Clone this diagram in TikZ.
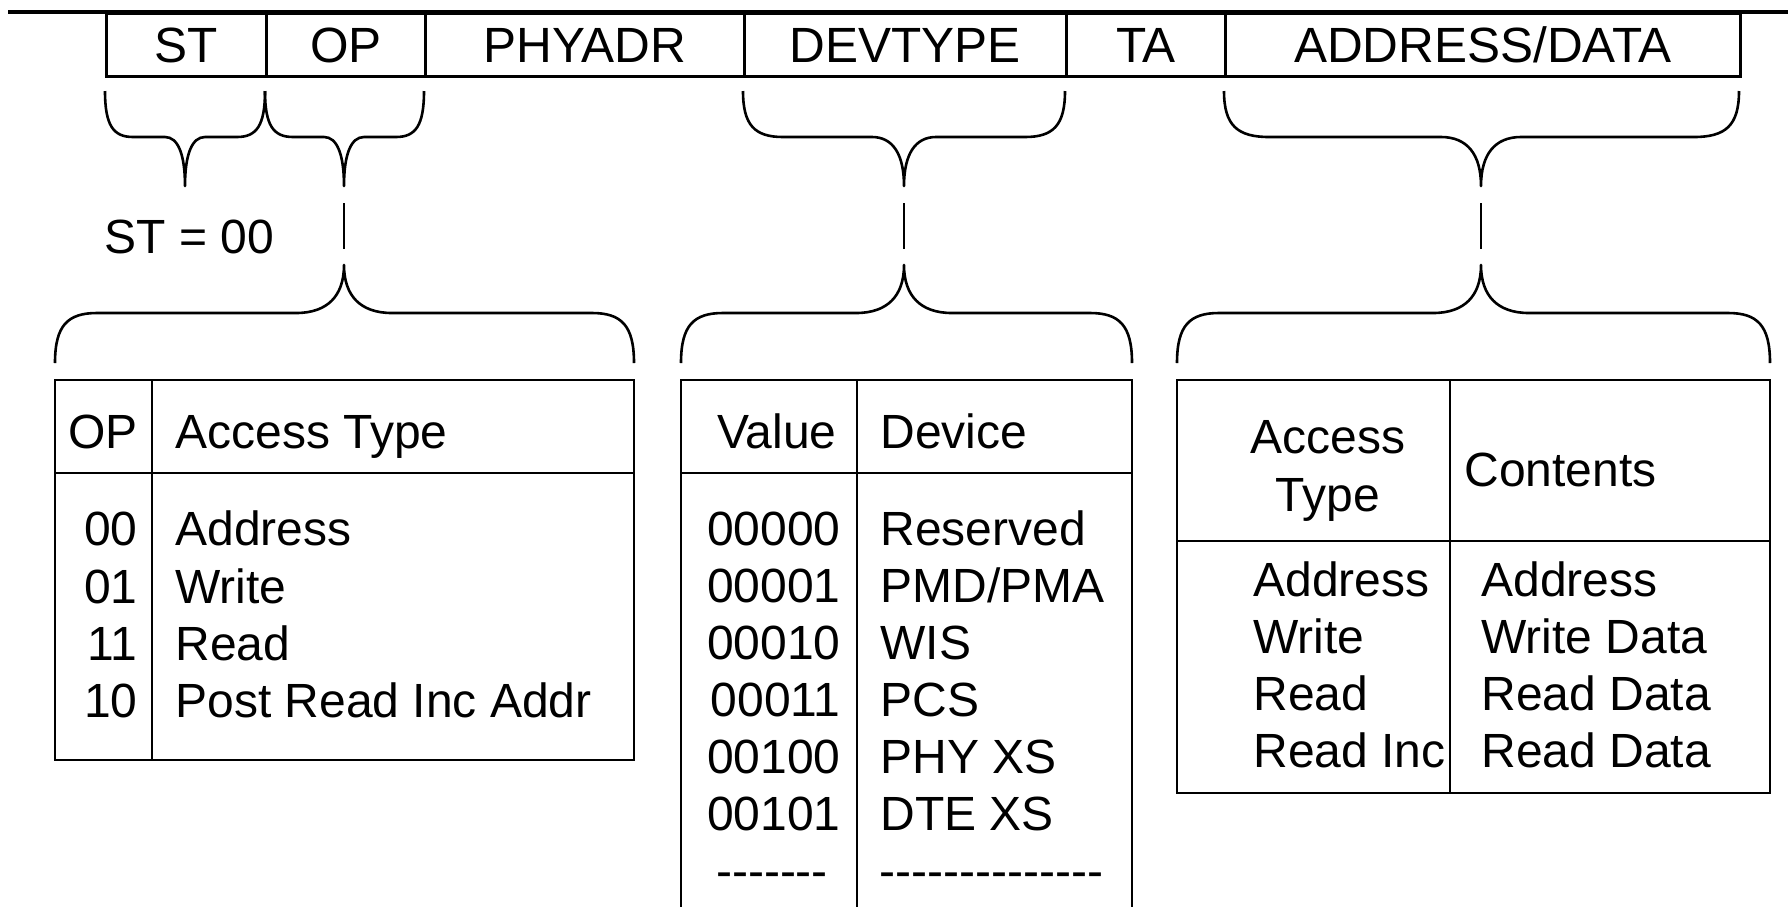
\documentclass[tikz,border=0pt]{standalone}
\usepackage{fontspec}
\setmainfont{Liberation Sans}[Ligatures=TeXOff]
\newcommand{\mybrace}[8]{%
  \draw[brace] (#1,#4) .. controls (#1,{#4+0.75*(#5-#4)}) and ({#1+0.3*#7},#5) .. ({#1+#7},#5)
    -- ({#2-#8},#5) .. controls ({#2-0.35*#8},#5) and (#2,{#5+0.35*(#6-#5)}) .. (#2,#6)
    .. controls (#2,{#5+0.35*(#6-#5)}) and ({#2+0.35*#8},#5) .. ({#2+#8},#5)
    -- ({#3-#7},#5) .. controls ({#3-0.3*#7},#5) and (#3,{#4+0.75*(#5-#4)}) .. (#3,#4);}
\begin{document}
\begin{tikzpicture}[x=1pt,y=-1pt, line width=2.8pt,
  every node/.style={font=\fontsize{48}{57}\selectfont, inner sep=0pt},
  hdr/.style={draw, minimum height=63pt, text height=35pt, text depth=0pt, anchor=north west,
    font=\fontsize{49.5}{57}\selectfont},
  txt/.style={anchor=base west},
  rtxt/.style={anchor=base east},
  ctxt/.style={anchor=base},
  brace/.style={line width=2.6pt, line join=round},
  link/.style={line width=2.8pt, shorten <=17pt, shorten >=16pt}]
\useasboundingbox (0,0) rectangle (1788,906);

% header
\node[hdr, minimum width=160pt] (st) at (105,12) {ST};
\node[hdr, minimum width=159pt] (op) at (265,12) {OP};
\node[hdr, minimum width=319pt] (phy) at (424,12) {PHYADR};
\node[hdr, minimum width=322pt] (dev) at (743,12) {DEVTYPE};
\node[hdr, minimum width=159pt] (ta) at (1065,12) {TA};
\node[hdr, minimum width=515pt] (ad) at (1224,12) {ADDRESS/DATA};
\draw[line width=4pt] (8,12) -- (1788,12);

% upper braces
\mybrace{105}{185}{265}{91}{137}{186}{28}{20}
\mybrace{265}{344}{424}{91}{137}{186}{28}{20}
\mybrace{743}{904}{1065}{91}{137}{186}{40}{32}
\mybrace{1224}{1481}{1739}{91}{137}{186}{45}{40}
% lower braces
\mybrace{55}{344}{634}{363}{313}{265}{42}{48}
\mybrace{681}{904}{1132}{363}{313}{265}{42}{48}
\mybrace{1177}{1481}{1770}{363}{313}{265}{42}{48}

\coordinate (t1) at (344,186); \coordinate (b1) at (344,265);
\coordinate (t2) at (904,186); \coordinate (b2) at (904,265);
\coordinate (t3) at (1481,186); \coordinate (b3) at (1481,265);
\draw[link] (t1) -- (b1);
\draw[link] (t2) -- (b2);
\draw[link] (t3) -- (b3);

\node[txt] (steq) at (103,253) {ST = 00};

% OP table
\draw (55,380) rectangle (634,760);
\draw (55,473) -- (634,473);
\draw (152,380) -- (152,760);
\node[rtxt] (oph) at (139,448) {OP};
\node[txt] (ath) at (174,448) {Access Type};
\node[rtxt] (o1) at (139,545) {00}; \node[txt] (a1) at (174,545) {Address};
\node[rtxt] (o2) at (139,603) {01}; \node[txt] (a2) at (174,603) {Write};
\node[rtxt] (o3) at (139,660) {11}; \node[txt] (a3) at (174,660) {Read};
\node[rtxt] (o4) at (139,717) {10}; \node[txt] (a4) at (174,717) {Post Read Inc Addr};

% DEVTYPE table
\draw (681,910) -- (681,380) -- (1132,380) -- (1132,910);
\draw (681,473) -- (1132,473);
\draw (857,380) -- (857,910);
\node[rtxt] (vh) at (838,448) {Value};
\node[txt] (dh) at (879,448) {Device};
\node[rtxt] (v1) at (842,545) {00000}; \node[txt] (d1) at (879,545) {Reserved};
\node[rtxt] (v2) at (842,602) {00001}; \node[txt] (d2) at (879,602) {PMD/PMA};
\node[rtxt] (v3) at (842,659) {00010}; \node[txt] (d3) at (879,659) {WIS};
\node[rtxt] (v4) at (842,716) {00011}; \node[txt] (d4) at (879,716) {PCS};
\node[rtxt] (v5) at (842,773) {00100}; \node[txt] (d5) at (879,773) {PHY XS};
\node[rtxt] (v6) at (842,830) {00101}; \node[txt] (d6) at (879,830) {DTE XS};
\node[ctxt] (v7) at (772,887) {-------}; \node[txt] (d7) at (878,887) {--------------};

% ADDRESS/DATA table
\draw (1177,380) rectangle (1770,793);
\draw (1177,541) -- (1770,541);
\draw (1450,380) -- (1450,793);
\node[ctxt] (ach) at (1328,453) {Access};
\node[ctxt] (tyh) at (1328,511) {Type};
\node[txt] (ch) at (1463,486) {Contents};
\node[txt] (r1) at (1252,596) {Address};  \node[txt] (c1) at (1480,596) {Address};
\node[txt] (r2) at (1252,653) {Write};    \node[txt] (c2) at (1480,653) {Write Data};
\node[txt] (r3) at (1252,710) {Read};     \node[txt] (c3) at (1480,710) {Read Data};
\node[txt] (r4) at (1252,767) {Read Inc}; \node[txt] (c4) at (1480,767) {Read Data};
\end{tikzpicture}
\end{document}
